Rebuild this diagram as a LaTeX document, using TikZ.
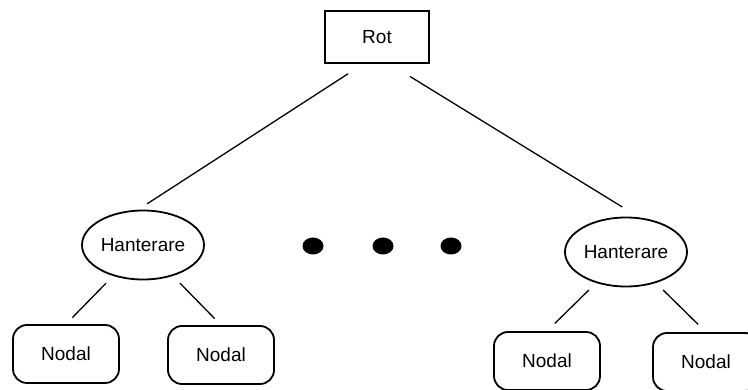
\documentclass[tikz,border=0pt]{standalone}
\usepackage{fontspec}
\setmainfont{Liberation Sans}
\usetikzlibrary{shapes.geometric}
\tikzset{
  every node/.style={font=\fontsize{19}{23}\selectfont},
  rotbox/.style={draw, line width=1.8pt, minimum width=104pt, minimum height=52pt, inner sep=0pt},
  handler/.style={draw, ellipse, line width=1.8pt, minimum width=122pt, minimum height=69pt, inner sep=0pt},
  nodal/.style={draw, rounded corners=14pt, line width=1.8pt, minimum width=106pt, minimum height=58pt, inner sep=0pt},
  blob/.style={fill, ellipse, minimum width=21pt, minimum height=17pt, inner sep=0pt},
  edge/.style={line width=1.3pt}
}

\begin{document}
\begin{tikzpicture}[x=1pt,y=-1pt]
	\useasboundingbox (0,0) rectangle (748,390);
	\node[rotbox] (rot) at (377,37) {Rot};
	\node[handler] (hl) at (143,245) {Hanterare};
	\node[handler] (hr) at (626,252) {Hanterare};
	\node[blob] (d1) at (313,246) {};
	\node[blob] (d2) at (383,246) {};
	\node[blob] (d3) at (451,246) {};
	\node[nodal] (n1) at (66,354) {Nodal};
	\node[nodal] (n2) at (221,355) {Nodal};
	\node[nodal] (n3) at (547,361) {Nodal};
	\node[nodal] (n4) at (706,362) {Nodal};
	\draw[edge, shorten <=18pt, shorten >=11pt] (rot.243) -- (hl.98);
	\draw[edge, shorten <=24pt, shorten >=20pt] (rot.295) -- (hr.69);
	\draw[edge, shorten <=10pt, shorten >=9pt] (hl.226) -- (n1.north);
	\draw[edge, shorten <=10pt, shorten >=9pt] (hl.314) -- (n2.north);
	\draw[edge, shorten <=10pt, shorten >=11pt] (hr.226) -- (n3.north);
	\draw[edge, shorten <=10pt, shorten >=11pt] (hr.314) -- (n4.north);
\end{tikzpicture}
\end{document}
